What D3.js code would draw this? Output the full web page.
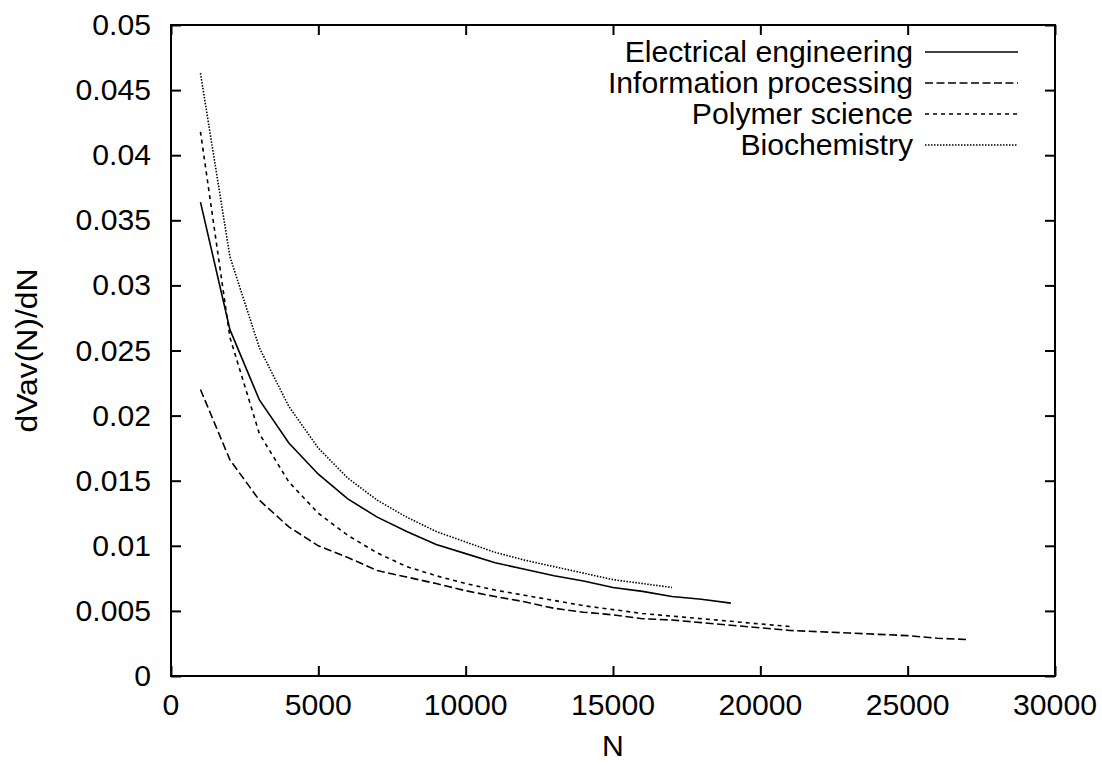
<!DOCTYPE html>
<html>
<head>
<meta charset="utf-8">
<script src="https://cdn.jsdelivr.net/npm/d3@7"></script>
<style>
  body { margin: 0; background: white; }
  text { font-family: "Liberation Sans", Arial, sans-serif; fill: #000; }
</style>
</head>
<body>
<div id="my_chart"></div>
<script>
// data
var seriesNames = ["Electrical engineering", "Information processing", "Polymer science", "Biochemistry"];

var elecN = [1000, 2000, 3000, 4000, 5000, 6000, 7000, 8000, 9000, 10000, 11000, 12000, 13000, 14000, 15000, 16000, 17000, 18000, 19000];
var elecV = [0.0364, 0.0266, 0.0212, 0.0179, 0.0155, 0.0136, 0.0122, 0.0111, 0.0101, 0.0094, 0.0087, 0.0082, 0.0077, 0.0073, 0.0068, 0.0065, 0.0061, 0.0059, 0.0056];

var infoN = [1000, 2000, 3000, 4000, 5000, 6000, 7000, 8000, 9000, 10000, 11000, 12000, 13000, 14000, 15000, 16000, 17000, 18000, 19000, 20000, 21000, 22000, 23000, 24000, 25000, 26000, 27000];
var infoV = [0.0220, 0.0166, 0.0135, 0.01145, 0.0100, 0.0091, 0.0081, 0.0076, 0.0071, 0.00655, 0.0061, 0.0057, 0.0052, 0.0049, 0.0047, 0.0044, 0.0043, 0.0041, 0.0039, 0.0037, 0.0035, 0.0034, 0.0033, 0.0032, 0.0031, 0.0029, 0.0028];

var polyN = [1000, 2000, 3000, 4000, 5000, 6000, 7000, 8000, 9000, 10000, 11000, 12000, 13000, 14000, 15000, 16000, 17000, 18000, 19000, 20000, 21000];
var polyV = [0.0418, 0.0260, 0.0186, 0.0149, 0.0125, 0.0108, 0.00945, 0.0084, 0.0077, 0.0071, 0.0066, 0.0062, 0.0058, 0.0054, 0.0051, 0.0048, 0.0046, 0.0044, 0.0042, 0.0040, 0.0038];

var bioN = [1000, 2000, 3000, 4000, 5000, 6000, 7000, 8000, 9000, 10000, 11000, 12000, 13000, 14000, 15000, 16000, 17000];
var bioV = [0.0463, 0.0322, 0.0252, 0.0207, 0.0175, 0.0152, 0.0135, 0.0122, 0.0111, 0.0103, 0.0095, 0.0089, 0.0084, 0.0079, 0.0074, 0.0071, 0.0068];

// tick values and labels
var xTicks = [0, 5000, 10000, 15000, 20000, 25000, 30000];
var xTickLabels = ["0", "5000", "10000", "15000", "20000", "25000", "30000"];
var yTicks = [0, 0.005, 0.01, 0.015, 0.02, 0.025, 0.03, 0.035, 0.04, 0.045, 0.05];
var yTickLabels = ["0", "0.005", "0.01", "0.015", "0.02", "0.025", "0.03", "0.035", "0.04", "0.045", "0.05"];

// dimensions
var margin = {top: 25, right: 47, bottom: 89, left: 171},
    width = 1102 - margin.left - margin.right,
    height = 765 - margin.top - margin.bottom;

var fontSize = 29, stretch = 1.04;

var svg = d3.select("#my_chart")
  .append("svg")
    .attr("width", 1102)
    .attr("height", 765)
  .append("g")
    .attr("transform", "translate(" + margin.left + "," + margin.top + ")");

var x = d3.scaleLinear().domain([0, 30000]).range([0, width]);
var y = d3.scaleLinear().domain([0, 0.05]).range([height, 0]);

// axes, ticks point inwards on all four sides
var tickLen = 10;
svg.append("g")
  .attr("transform", "translate(0," + height + ")")
  .call(d3.axisBottom(x).tickValues(xTicks).tickSize(-tickLen).tickFormat(""));
svg.append("g")
  .call(d3.axisTop(x).tickValues(xTicks).tickSize(-tickLen).tickFormat(""));
svg.append("g")
  .call(d3.axisLeft(y).tickValues(yTicks).tickSize(-tickLen).tickFormat(""));
svg.append("g")
  .attr("transform", "translate(" + width + ",0)")
  .call(d3.axisRight(y).tickValues(yTicks).tickSize(-tickLen).tickFormat(""));

svg.selectAll(".domain").remove();
svg.selectAll(".tick line").attr("stroke", "#000").attr("stroke-width", 2);

svg.append("rect")
  .attr("width", width)
  .attr("height", height)
  .attr("fill", "none")
  .attr("stroke", "#000")
  .attr("stroke-width", 2);

// tick labels
svg.append("g").selectAll("text")
  .data(xTicks)
  .enter()
  .append("text")
    .attr("transform", function(d) { return "translate(" + x(d) + "," + (height + 39) + ") scale(" + stretch + ",1)"; })
    .attr("text-anchor", "middle")
    .style("font-size", fontSize + "px")
    .text(function(d, i) { return xTickLabels[i]; });

svg.append("g").selectAll("text")
  .data(yTicks)
  .enter()
  .append("text")
    .attr("transform", function(d) { return "translate(-20," + (y(d) + 10) + ") scale(" + stretch + ",1)"; })
    .attr("text-anchor", "end")
    .style("font-size", fontSize + "px")
    .text(function(d, i) { return yTickLabels[i]; });

// axis titles
svg.append("text")
  .attr("transform", "translate(" + (width / 2) + "," + (height + 80) + ") scale(" + stretch + ",1)")
  .attr("text-anchor", "middle")
  .style("font-size", fontSize + "px")
  .text("N");

svg.append("text")
  .attr("transform", "translate(" + (-134) + "," + (height / 2) + ") rotate(-90) scale(1.1,1)")
  .attr("text-anchor", "middle")
  .style("font-size", fontSize + "px")
  .text("dVav(N)/dN");

// lines
var series = [
  {name: seriesNames[0], n: elecN, v: elecV, dash: null},
  {name: seriesNames[1], n: infoN, v: infoV, dash: "8,3.5"},
  {name: seriesNames[2], n: polyN, v: polyV, dash: "4,4"},
  {name: seriesNames[3], n: bioN, v: bioV, dash: "1.5,1.5"}
];

var line = d3.line()
  .x(function(d) { return x(d[0]); })
  .y(function(d) { return y(d[1]); });

series.forEach(function(s) {
  svg.append("path")
    .datum(d3.zip(s.n, s.v))
    .attr("fill", "none")
    .attr("stroke", "#000")
    .attr("stroke-width", 1.6)
    .attr("stroke-dasharray", s.dash)
    .attr("d", line);
});

// legend
var legend = svg.append("g").attr("transform", "translate(" + (913 - margin.left) + "," + (52 - margin.top) + ")");
series.forEach(function(s, i) {
  legend.append("text")
    .attr("transform", "translate(0," + (i * 31 + 9.5) + ") scale(" + stretch + ",1)")
    .attr("text-anchor", "end")
    .style("font-size", fontSize + "px")
    .text(s.name);
  legend.append("line")
    .attr("x1", 12).attr("x2", 105)
    .attr("y1", i * 31).attr("y2", i * 31)
    .attr("stroke", "#000")
    .attr("stroke-width", 1.6)
    .attr("stroke-dasharray", s.dash);
});
</script>
</body>
</html>
